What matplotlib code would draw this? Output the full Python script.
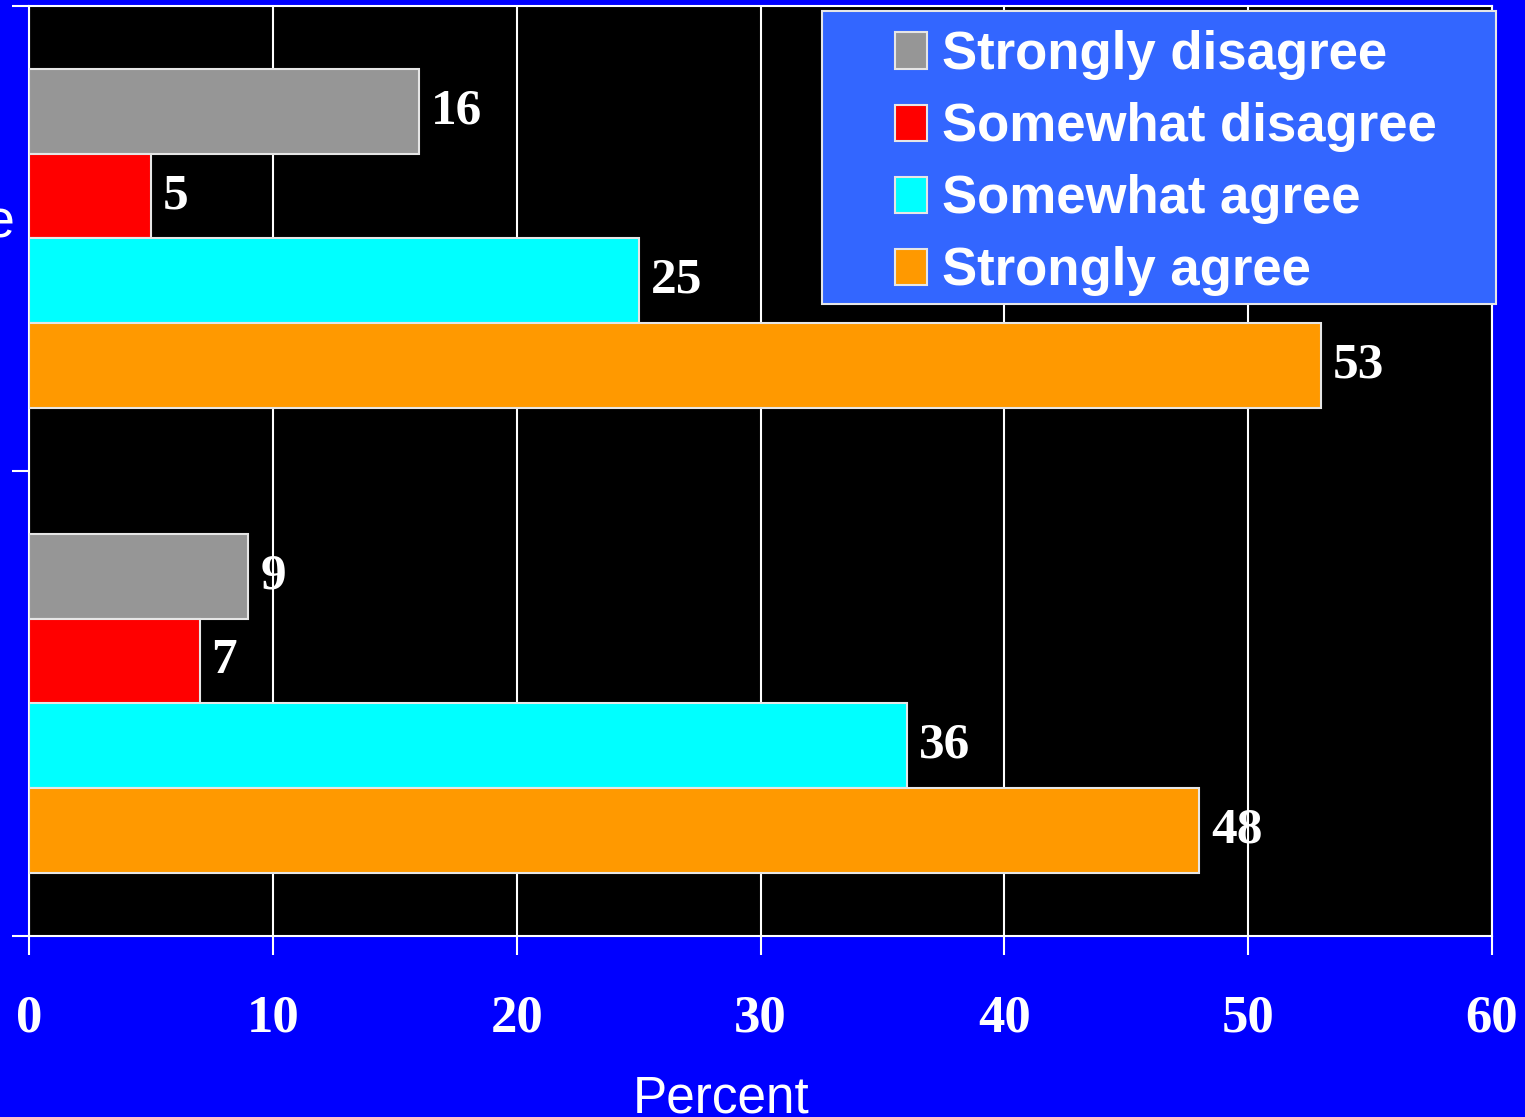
import numpy as np
import matplotlib.pyplot as plt
from matplotlib.patches import Rectangle

groups = ["Hospital nurse", "Physician"]
series = ["Strongly disagree", "Somewhat disagree", "Somewhat agree", "Strongly agree"]
strongly_disagree = [16, 9]
somewhat_disagree = [5, 7]
somewhat_agree = [25, 36]
strongly_agree = [53, 48]
values = [strongly_disagree, somewhat_disagree, somewhat_agree, strongly_agree]
colors = ["#969696", "#ff0000", "#00ffff", "#ff9900"]
xticks = [0, 10, 20, 30, 40, 50, 60]

W, H = 1525, 1117
fig = plt.figure(figsize=(W / 100, H / 100), dpi=100, facecolor="#0000ff")
ax = fig.add_axes([29 / W, 181 / H, 1463 / W, 930 / H])
ax.set_facecolor("black")

y = np.arange(len(groups))
h = 0.1818
for i, (name, vals, c) in enumerate(zip(series, values, colors)):
    bars = ax.barh(y + (i - 1.5) * h, vals, height=h, color=c,
                   edgecolor="#e6e6e6", linewidth=1.5, label=name, zorder=3)
    ax.bar_label(bars, padding=8.5, color="white", fontsize=37,
                 fontweight="bold", fontfamily="Liberation Serif")

ax.set_xlim(0, 60)
ax.set_ylim(-0.5, 1.5)
ax.invert_yaxis()
ax.set_xticks(xticks)
ax.set_xticklabels([str(t) for t in xticks], fontsize=38, fontweight="bold",
                   fontfamily="Liberation Serif", color="white")
ax.set_yticks([-0.5, 0.5, 1.5], minor=False)
ax.set_yticklabels([])
# group labels sit a little above the group centre
ax.set_yticks(y - 0.045, minor=True)
ax.set_yticklabels(groups, minor=True, fontsize=39, fontfamily="Liberation Sans",
                   color="white", ha="center")
ax.tick_params(axis="y", which="minor", length=0, pad=135)
ax.tick_params(axis="y", which="major", length=12, width=1.5, color="white", direction="out")
ax.tick_params(axis="x", length=14, width=1.5, color="white", direction="out", pad=28)

ax.xaxis.grid(True, color="white", linewidth=1.5)
ax.set_axisbelow(True)
for s in ax.spines.values():
    s.set_color("white")
    s.set_linewidth(1.5)

ax.set_xlabel("Percent", fontsize=37, fontfamily="Liberation Sans", color="white")
ax.xaxis.set_label_coords(0.473, -0.149)

# legend box
box = Rectangle((822 / W, 1 - 304 / H), 674 / W, 293 / H, transform=fig.transFigure,
                facecolor="#3366ff", edgecolor="#e6e6e6", linewidth=1.5, zorder=2)
fig.patches.append(box)
handles, labels = ax.get_legend_handles_labels()
leg = fig.legend(handles, labels, loc="upper left", bbox_to_anchor=(895 / W, 1 - 30 / H),
                 frameon=False, borderpad=0, borderaxespad=0,
                 handlelength=0.6, handleheight=0.68, handletextpad=0.3,
                 labelspacing=0.42,
                 prop={"family": "Liberation Sans", "weight": "bold", "size": 38})
for t in leg.get_texts():
    t.set_color("white")
leg.set_zorder(5)

fig.savefig("out.png", dpi=100, facecolor=fig.get_facecolor())
